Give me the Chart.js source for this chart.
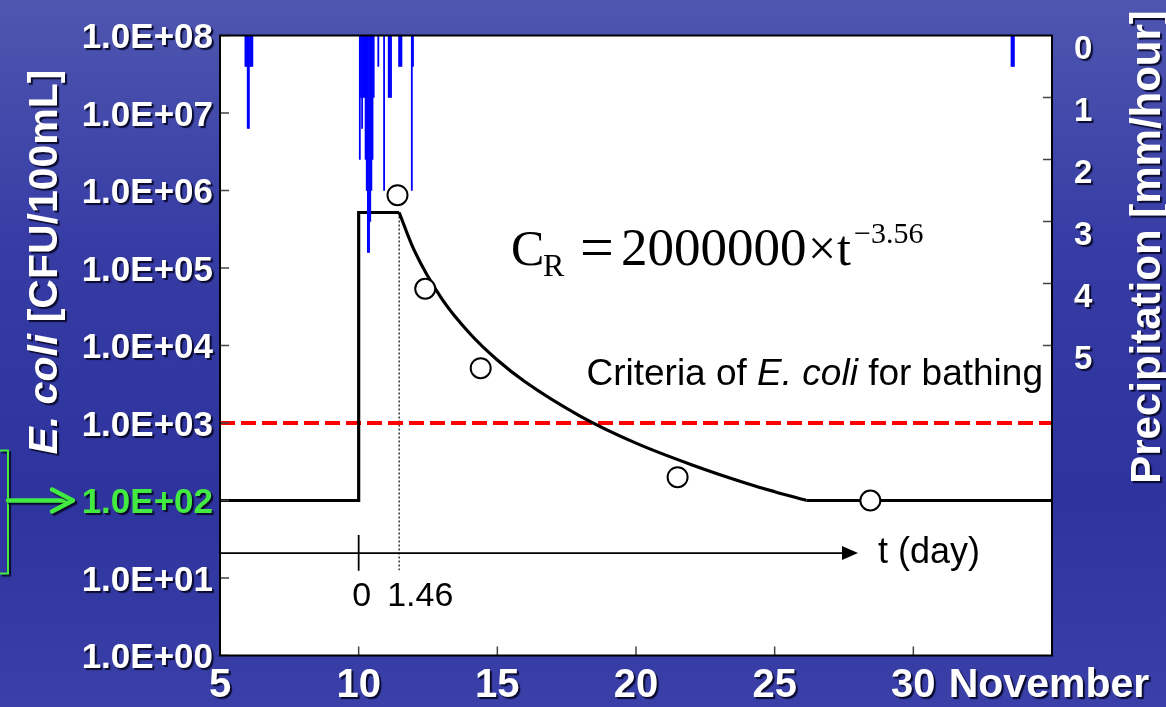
<!DOCTYPE html>
<html><head><meta charset="utf-8">
<script src="https://cdn.jsdelivr.net/npm/chart.js@4.4.1/dist/chart.umd.min.js"></script>
<style>html,body{margin:0;padding:0;background:#3338a0;overflow:hidden}canvas{display:block}</style>
</head><body>
<canvas id="c" width="1166" height="707"></canvas>
<script>
// ---- data ----
const xTicks = [5, 10, 15, 20, 25, 30];
const yTicks = [1, 10, 100, 1000, 1e4, 1e5, 1e6, 1e7, 1e8];
const rainTicks = [0, 1, 2, 3, 4, 5, 6, 7, 8, 9, 10];
const rainTickLabels = ['0', '1', '2', '3', '4', '5', '', '', '', '', ''];

// hourly precipitation: hours after 5 November 00:00, mm/hour
const rainHour   = [22, 23, 24, 25, 26, 27, 28,
                    121, 122, 123, 124, 125, 126, 127, 128, 129, 130, 131, 132, 133,
                    137, 142, 146, 147, 148, 155, 156, 157, 166, 167,
                    685, 686, 687];
const rainValues = [0.5, 0.5, 1.5, 1.5, 0.5, 0.5, 0.5,
                    2.0, 1.0, 1.5, 1.0, 1.0, 2.0, 2.5, 3.5, 3.5, 3.0, 2.5, 2.0, 1.0,
                    0.5, 2.5, 1.0, 1.0, 1.0, 0.5, 0.5, 0.5, 2.5, 0.5,
                    0.5, 0.5, 0.5];

// modelled E. coli (step, decay curve, background level)
const stepDays   = [5, 10, 10, 11.46];
const stepValues = [100, 100, 5.2e5, 5.2e5];
const curveDays   = [11.46, 12, 13, 14, 15, 16, 18, 20, 22, 24, 25, 26.15];
const curveValues = [5.2e5, 1.7e5, 4.0e4, 1.44e4, 6.5e3, 3.4e3, 1.22e3, 550, 290, 166, 130, 100];
const baseDays   = [26.15, 35];
const baseValues = [100, 100];

// observed E. coli
const obsDays   = [11.4, 12.4, 14.4, 21.5, 28.45];
const obsValues = [8.7e5, 5.4e4, 5.1e3, 200, 100];

// reference lines
const criteriaDays = [5, 35];
const criteriaValues = [1000, 1000];
const tAxisDays = [5, 27.5];
const tAxisValues = [21, 21];
const tZeroDays = [10, 10];
const tZeroValues = [36, 12.4];
const tPeakDays = [11.46, 11.46];
const tPeakValues = [5.2e5, 12.6];

// ---- build ----
const pts = (xs, ys) => xs.map((x, i) => ({x, y: ys[i]}));
const rainData = rainHour.map((h, i) => ({x: 5 + h / 24, y: rainValues[i]}));

const WHITE = '#ffffff';
const GREEN = '#42ea42';
const SANS = "'Liberation Sans', Arial, sans-serif";
const SERIF = "'Liberation Serif', 'Times New Roman', serif";

function shadowOn(ctx){ ctx.shadowColor='rgba(8,8,40,0.95)'; ctx.shadowOffsetX=2; ctx.shadowOffsetY=2; ctx.shadowBlur=1; }
function noPad(s){ s.paddingTop = 0; s.paddingBottom = 0; s.paddingLeft = 0; s.paddingRight = 0; }

const deco = {
  id: 'deco',
  beforeDraw(chart){
    const {ctx, chartArea:a} = chart;
    ctx.save();
    const g = ctx.createLinearGradient(0, 0, 0, chart.height);
    g.addColorStop(0, '#4e56b0');
    g.addColorStop(0.35, '#363ca4');
    g.addColorStop(0.7, '#2e339d');
    g.addColorStop(1, '#3a40a8');
    ctx.fillStyle = g; ctx.fillRect(0, 0, chart.width, chart.height);
    ctx.fillStyle = '#ffffff';
    ctx.fillRect(a.left, a.top, a.right - a.left, a.bottom - a.top);
    ctx.restore();
    ctx.save();
    shadowOn(ctx);
  },
  beforeDatasetsDraw(chart){ chart.ctx.restore(); },
  afterDatasetsDraw(chart){
    const {ctx, chartArea:a, scales} = chart;
    const x = scales.x, y = scales.y, y2 = scales.y2;
    ctx.save();
    // inward tick marks
    ctx.strokeStyle = '#444'; ctx.lineWidth = 1.5;
    ctx.beginPath();
    yTicks.forEach(v => { const p = y.getPixelForValue(v); ctx.moveTo(a.left, p); ctx.lineTo(a.left + 9, p); });
    [1,2,3,4,5].forEach(v => { const p = y2.getPixelForValue(v); ctx.moveTo(a.right, p); ctx.lineTo(a.right - 9, p); });
    xTicks.slice(1).forEach(v => { const p = x.getPixelForValue(v); ctx.moveTo(p, a.bottom); ctx.lineTo(p, a.bottom - 9); });
    ctx.stroke();
    // border
    ctx.strokeStyle = '#000'; ctx.lineWidth = 2;
    ctx.strokeRect(a.left, a.top, a.right - a.left, a.bottom - a.top);
    // arrow head of t axis
    const ax = x.getPixelForValue(tAxisDays[1]), ay = y.getPixelForValue(tAxisValues[1]);
    ctx.fillStyle = '#000';
    ctx.beginPath(); ctx.moveTo(ax - 2, ay - 7); ctx.lineTo(ax + 14, ay); ctx.lineTo(ax - 2, ay + 7); ctx.closePath(); ctx.fill();
    // texts in plot
    ctx.fillStyle = '#000';
    ctx.font = '36px ' + SANS; ctx.textBaseline = 'middle'; ctx.textAlign = 'left';
    ctx.fillText('t (day)', ax + 34, ay);
    ctx.font = '34px ' + SANS;
    const ly = y.getPixelForValue(5.7);
    ctx.textAlign = 'center';
    ctx.fillText('0', x.getPixelForValue(10) + 3, ly);
    ctx.textAlign = 'left';
    ctx.fillText('1.46', x.getPixelForValue(11.46) - 12, ly);
    // criteria text (right aligned)
    ctx.textBaseline = 'alphabetic';
    const parts = [['Criteria of ', '37px ' + SANS], ['E. coli', 'italic 37px ' + SANS], [' for bathing', '37px ' + SANS]];
    let tw = 0; parts.forEach(p => { ctx.font = p[1]; tw += ctx.measureText(p[0]).width; });
    let cx = a.right - 9 - tw; const cy = y.getPixelForValue(1000) - 38;
    parts.forEach(p => { ctx.font = p[1]; ctx.fillText(p[0], cx, cy); cx += ctx.measureText(p[0]).width; });
    // formula
    const fy = 265;
    ctx.font = '50px ' + SERIF; ctx.fillText('C', 511, fy);
    ctx.font = '32px ' + SERIF; ctx.fillText('R', 543, fy + 11);
    ctx.font = '60px ' + SERIF; ctx.fillText('=', 580, fy + 2);
    ctx.font = '53px ' + SERIF; ctx.fillText('2000000', 621, fy);
    ctx.font = '50px ' + SERIF; ctx.fillText('\u00d7', 808, fy);
    ctx.fillText('t', 837, fy);
    ctx.font = '30px ' + SERIF; ctx.fillText('\u22123.56', 854, fy - 22);
    ctx.restore();
  },
  afterDraw(chart){
    const {ctx, chartArea:a, scales} = chart;
    const x = scales.x, y = scales.y;
    ctx.save();
    shadowOn(ctx);
    ctx.fillStyle = WHITE;
    // "November" after the 30 label
    ctx.font = 'bold 40px ' + SANS; ctx.textBaseline = 'middle'; ctx.textAlign = 'left';
    const nx = x.getPixelForValue(30) + ctx.measureText('30').width / 2 + ctx.measureText(' ').width + 2;
    ctx.font = 'bold 41px ' + SANS;
    ctx.fillText('November', nx, a.bottom + 6 + 24);
    // left title
    ctx.save();
    ctx.translate(57, 262); ctx.rotate(-Math.PI / 2);
    ctx.textBaseline = 'alphabetic'; ctx.textAlign = 'left';
    const lp = [['E. coli', 'italic bold 41px ' + SANS], [' [CFU/100mL]', 'bold 41px ' + SANS]];
    let lw = 0; lp.forEach(p => { ctx.font = p[1]; lw += ctx.measureText(p[0]).width; });
    let lx = -lw / 2;
    lp.forEach(p => { ctx.font = p[1]; ctx.fillText(p[0], lx, 0); lx += ctx.measureText(p[0]).width; });
    ctx.restore();
    // right title
    ctx.save();
    ctx.translate(1160, 247); ctx.rotate(-Math.PI / 2);
    ctx.font = 'bold 42px ' + SANS; ctx.textAlign = 'center'; ctx.textBaseline = 'alphabetic';
    ctx.fillText('Precipitation [mm/hour]', 0, 0);
    ctx.restore();
    // green pointer to 1.0E+02
    const gy = y.getPixelForValue(100);
    ctx.strokeStyle = GREEN; ctx.lineWidth = 2;
    ctx.beginPath(); ctx.moveTo(0, gy - 50); ctx.lineTo(8, gy - 50); ctx.lineTo(8, gy + 73); ctx.lineTo(0, gy + 73); ctx.stroke();
    ctx.lineWidth = 4.5; ctx.lineCap = 'round'; ctx.lineJoin = 'round';
    ctx.beginPath(); ctx.moveTo(8, gy); ctx.lineTo(72, gy); ctx.stroke();
    ctx.beginPath(); ctx.moveTo(52, gy - 11); ctx.lineTo(73, gy); ctx.lineTo(52, gy + 11); ctx.stroke();
    ctx.restore();
  }
};

new Chart(document.getElementById('c'), {
  type: 'line',
  data: {
    datasets: [
      { type: 'bar', data: rainData, yAxisID: 'y2', backgroundColor: '#0000ff', borderWidth: 0,
        barPercentage: 1, categoryPercentage: 1, order: 0 },
      { data: pts(obsDays, obsValues), yAxisID: 'y', showLine: false, pointRadius: 10, pointBorderWidth: 2,
        pointBackgroundColor: '#ffffff', pointBorderColor: '#000', order: 1 },
      { data: pts(stepDays, stepValues), yAxisID: 'y', borderColor: '#000', borderWidth: 3.2, pointRadius: 0,
        tension: 0, order: 2 },
      { data: pts(curveDays, curveValues), yAxisID: 'y', borderColor: '#000', borderWidth: 3.2, pointRadius: 0,
        cubicInterpolationMode: 'monotone', order: 2 },
      { data: pts(baseDays, baseValues), yAxisID: 'y', borderColor: '#000', borderWidth: 3.2, pointRadius: 0,
        tension: 0, order: 2 },
      { data: pts(criteriaDays, criteriaValues), yAxisID: 'y', borderColor: '#ff0000', borderWidth: 4,
        borderDash: [15, 6], pointRadius: 0, order: 3 },
      { data: pts(tAxisDays, tAxisValues), yAxisID: 'y', borderColor: '#000', borderWidth: 1.8, pointRadius: 0, order: 3 },
      { data: pts(tZeroDays, tZeroValues), yAxisID: 'y', borderColor: '#000', borderWidth: 1.8, pointRadius: 0, order: 3 },
      { data: pts(tPeakDays, tPeakValues), yAxisID: 'y', borderColor: '#000', borderWidth: 1.2, borderDash: [2, 2],
        pointRadius: 0, order: 3 }
    ]
  },
  options: {
    responsive: false, animation: false, devicePixelRatio: 1,
    layout: { padding: { top: 35.5, left: 0, right: 0, bottom: 0 } },
    plugins: { legend: { display: false }, tooltip: { enabled: false } },
    scales: {
      x: {
        type: 'linear', position: 'bottom', min: 5, max: 35, offset: false,
        grid: { display: false, offset: false, drawTicks: false }, border: { display: false },
        afterBuildTicks: s => { s.ticks = xTicks.map(v => ({value: v})); },
        afterFit: s => { s.height = 51.5; noPad(s); },
        ticks: { color: WHITE, padding: 6, maxRotation: 0, autoSkip: false,
                 font: { family: SANS, size: 40, weight: 'bold' }, callback: v => String(v) }
      },
      y: {
        type: 'logarithmic', position: 'left', min: 1, max: 1e8,
        grid: { display: false, drawTicks: false }, border: { display: false },
        afterBuildTicks: s => { s.ticks = yTicks.map(v => ({value: v})); },
        afterFit: s => { s.width = 220; noPad(s); },
        ticks: { padding: 7, labelOffset: 3, autoSkip: false,
                 color: c => (c.tick && c.tick.value === 100) ? GREEN : WHITE,
                 font: { family: SANS, size: 35, weight: 'bold' },
                 callback: v => '1.0E+' + String(Math.round(Math.log10(v))).padStart(2, '0') }
      },
      y2: {
        type: 'linear', position: 'right', min: 0, max: 10, reverse: true, beginAtZero: true,
        grid: { display: false, drawTicks: false }, border: { display: false },
        afterBuildTicks: s => { s.ticks = rainTicks.map(v => ({value: v})); },
        afterFit: s => { s.width = 114; noPad(s); },
        ticks: { padding: 22, labelOffset: 14, autoSkip: false, color: WHITE,
                 font: { family: SANS, size: 33, weight: 'bold' },
                 callback: (v, i) => rainTickLabels[i] }
      }
    }
  },
  plugins: [deco]
});
</script>
</body></html>
